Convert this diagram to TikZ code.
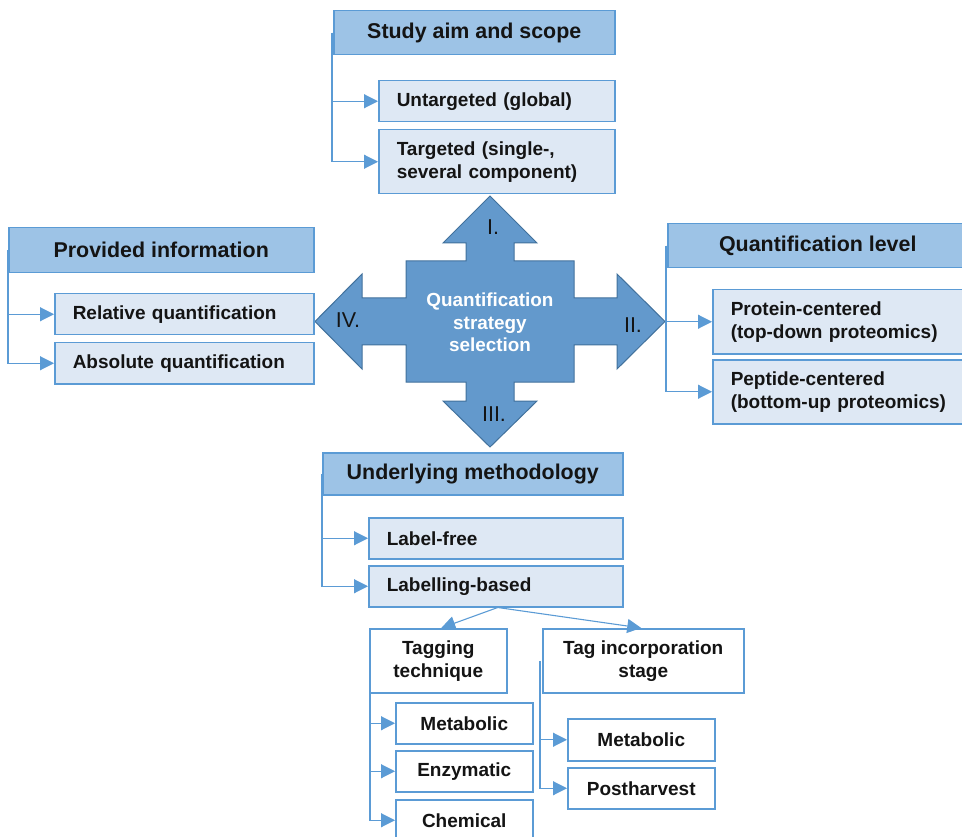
\documentclass[tikz,border=0pt]{standalone}
\usepackage{fontspec}
\setmainfont{Liberation Sans}
\usetikzlibrary{arrows.meta}
\definecolor{bordc}{HTML}{5B9BD5}
\definecolor{hdrfill}{HTML}{9DC3E6}
\definecolor{subfill}{HTML}{DEE8F4}
\definecolor{crossfill}{HTML}{6399CC}
\definecolor{crossline}{HTML}{41719C}
\definecolor{txt}{HTML}{141414}
\tikzset{
  hdr/.style={draw=bordc, fill=hdrfill, line width=1.5pt, inner sep=0pt, anchor=north west,
    text=txt, font=\fontsize{21.4}{25}\selectfont\bfseries, align=center},
  subl/.style={draw=bordc, fill=subfill, line width=1.5pt, inner xsep=18pt, inner ysep=0pt,
    anchor=north west, text=txt, font=\fontsize{19}{23}\selectfont\bfseries, align=left},
  subc/.style={draw=bordc, fill=white, line width=1.5pt, inner sep=0pt,
    anchor=north west, text=txt, font=\fontsize{19}{23}\selectfont\bfseries, align=center},
  conn/.style={draw=bordc, line width=1.1pt, -{Triangle[length=14pt,width=14pt]}},
  roman/.style={text=txt, font=\fontsize{21.5}{25}\selectfont, inner sep=0pt},
}
\begin{document}
\begin{tikzpicture}[x=1pt,y=-1pt]
\useasboundingbox (0,0) rectangle (962,837);
\clip (0,0) rectangle (962,837);

% central cross
\draw[fill=crossfill, draw=crossline, line width=1pt, line join=miter]
 (490,196) -- (537,243) -- (514,243) -- (514,261) -- (574,261) -- (574,298) -- (617,298)
 -- (617,274) -- (665,321.5) -- (617,369) -- (617,345) -- (574,345) -- (574,382)
 -- (514,382) -- (514,401) -- (537,401) -- (490,447) -- (443,401) -- (466,401)
 -- (466,382) -- (406,382) -- (406,345) -- (362,345) -- (362,369) -- (315,321.5)
 -- (362,274) -- (362,298) -- (406,298) -- (406,261) -- (466,261) -- (466,243)
 -- (443,243) -- cycle;
\node[text=white, font=\fontsize{18.9}{22.5}\selectfont\bfseries, align=center, inner sep=0pt]
  (center) at (490,322.5) {Quantification\\strategy\\selection};
\node[roman] (r1) at (493,227) {I.};
\node[roman] (r2) at (633,325) {II.};
\node[roman] (r3) at (494,414) {III.};
\node[roman] (r4) at (348,320) {IV.};

% I. Study aim and scope
\node[hdr, minimum width=281pt, minimum height=44pt] (sa) at (333,10) {Study aim and scope};
\node[subl, minimum width=236pt, minimum height=41pt, text width=200pt] (ut) at (378,80) {Untargeted (global)};
\node[subl, minimum width=236pt, minimum height=64pt, text width=200pt] (tg) at (378,129) {Targeted (single-,\\several component)};
\draw[conn] ([xshift=-1pt]sa.west) |- (ut.west);
\draw[conn] ([xshift=-1pt]sa.west) |- (tg.west);

% IV. Provided information
\node[hdr, minimum width=305pt, minimum height=45pt] (pi) at (8,227) {Provided information};
\node[subl, minimum width=259pt, minimum height=41pt, text width=223pt] (rq) at (54,293) {Relative quantification};
\node[subl, minimum width=259pt, minimum height=41pt, text width=223pt] (aq) at (54,342) {Absolute quantification};
\draw[conn] (pi.west) |- (rq.west);
\draw[conn] (pi.west) |- (aq.west);

% II. Quantification level
\node[hdr, minimum width=300pt, minimum height=44pt] (ql) at (667,223) {Quantification level};
\node[subl, minimum width=255pt, minimum height=64pt, text width=219pt] (pc) at (712,289) {Protein-centered\\(top-down proteomics)};
\node[subl, minimum width=255pt, minimum height=64pt, text width=219pt] (pp) at (712,359) {Peptide-centered\\(bottom-up proteomics)};
\draw[conn] ([xshift=-1pt]ql.west) |- (pc.west);
\draw[conn] ([xshift=-1pt]ql.west) |- (pp.west);

% III. Underlying methodology
\node[hdr, minimum width=300pt, minimum height=42pt] (um) at (322,452) {Underlying methodology};
\node[subl, minimum width=254pt, minimum height=41pt, text width=218pt] (lf) at (368,517) {Label-free};
\node[subl, minimum width=254pt, minimum height=41pt, text width=218pt] (lb) at (368,565) {Labelling-based};
\draw[conn] (um.west) |- (lf.west);
\draw[conn] (um.west) |- (lb.west);

% Labelling-based branches
\node[subc, minimum width=137pt, minimum height=64pt] (tt) at (369,628) {Tagging\\technique};
\node[subc, minimum width=201pt, minimum height=64pt] (ti) at (542,628) {Tag incorporation\\stage};
\draw[conn] ([xshift=2pt]lb.south) -- ([xshift=3pt]tt.north);
\draw[conn] ([xshift=2pt]lb.south) -- ([xshift=-2pt]ti.north);

\node[subc, minimum width=137pt, minimum height=41pt] (m1) at (395,702) {Metabolic};
\node[subc, minimum width=137pt, minimum height=41pt] (en) at (395,750) {Enzymatic};
\node[subc, minimum width=137pt, minimum height=41pt] (ch) at (395,799) {Chemical};
\draw[conn] ([xshift=1pt]tt.west) |- (m1.west);
\draw[conn] ([xshift=1pt]tt.west) |- (en.west);
\draw[conn] ([xshift=1pt]tt.west) |- (ch.west);

\node[subc, minimum width=147pt, minimum height=42pt] (m2) at (567,718) {Metabolic};
\node[subc, minimum width=147pt, minimum height=41pt] (ph) at (567,767) {Postharvest};
\draw[conn] ([xshift=-2pt]ti.west) |- (m2.west);
\draw[conn] ([xshift=-2pt]ti.west) |- (ph.west);
\end{tikzpicture}
\end{document}
